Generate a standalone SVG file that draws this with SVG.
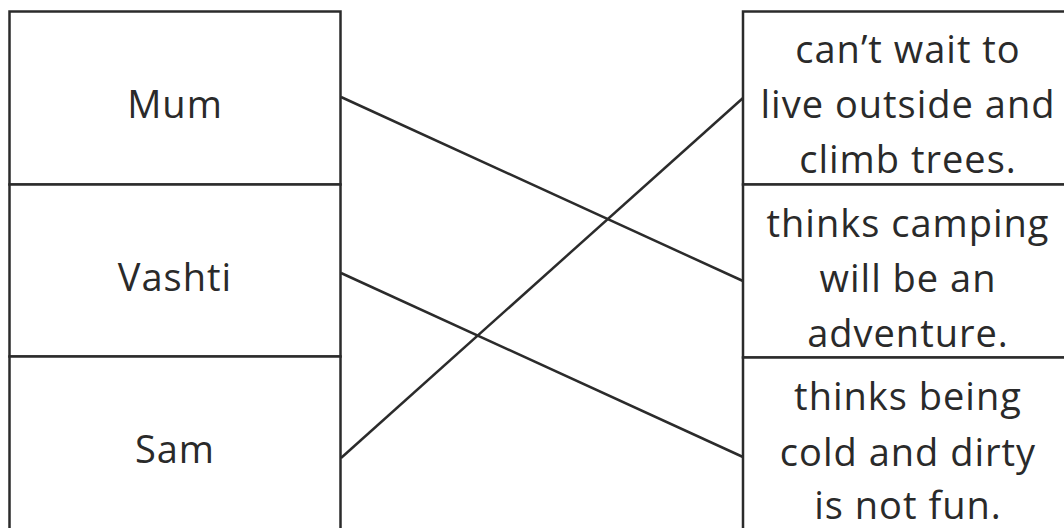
<svg xmlns="http://www.w3.org/2000/svg" width="1064" height="528" viewBox="0 0 1064 528">
<style>
.box{fill:#fff;stroke:#2b2b2b;stroke-width:2.5}
.t{font-family:"Open Sans","DejaVu Sans",sans-serif;font-size:38px;letter-spacing:1px;fill:#2a2a2a;text-anchor:middle}
.c{stroke:#2b2b2b;stroke-width:2.5;fill:none}
</style>
<rect width="1064" height="528" fill="#fff"/>
<g id="mum"><rect class="box" x="9.5" y="11.5" width="331" height="173"/><text class="t" x="175" y="118">Mum</text></g>
<g id="vashti"><rect class="box" x="9.5" y="184.5" width="331" height="172"/><text class="t" x="175" y="291">Vashti</text></g>
<g id="sam"><rect class="box" x="9.5" y="356.5" width="331" height="180"/><text class="t" x="175" y="463">Sam</text></g>
<g id="r1"><rect class="box" x="743" y="11.5" width="340" height="173"/><text class="t" x="908"><tspan x="908" y="63">can’t wait to</tspan><tspan x="908" y="118">live outside and</tspan><tspan x="908" y="173">climb trees.</tspan></text></g>
<g id="r2"><rect class="box" x="743" y="184.5" width="340" height="173"/><text class="t" x="908"><tspan x="908" y="237">thinks camping</tspan><tspan x="908" y="292">will be an</tspan><tspan x="908" y="347">adventure.</tspan></text></g>
<g id="r3"><rect class="box" x="743" y="357.5" width="340" height="180"/><text class="t" x="908"><tspan x="908" y="410">thinks being</tspan><tspan x="908" y="466">cold and dirty</tspan><tspan x="908" y="519">is not fun.</tspan></text></g>
<g id="connectors">
<line class="c" x1="341" y1="97" x2="743" y2="281"/>
<line class="c" x1="341" y1="273" x2="743" y2="457"/>
<line class="c" x1="341" y1="458" x2="743" y2="98"/>
</g>
</svg>
